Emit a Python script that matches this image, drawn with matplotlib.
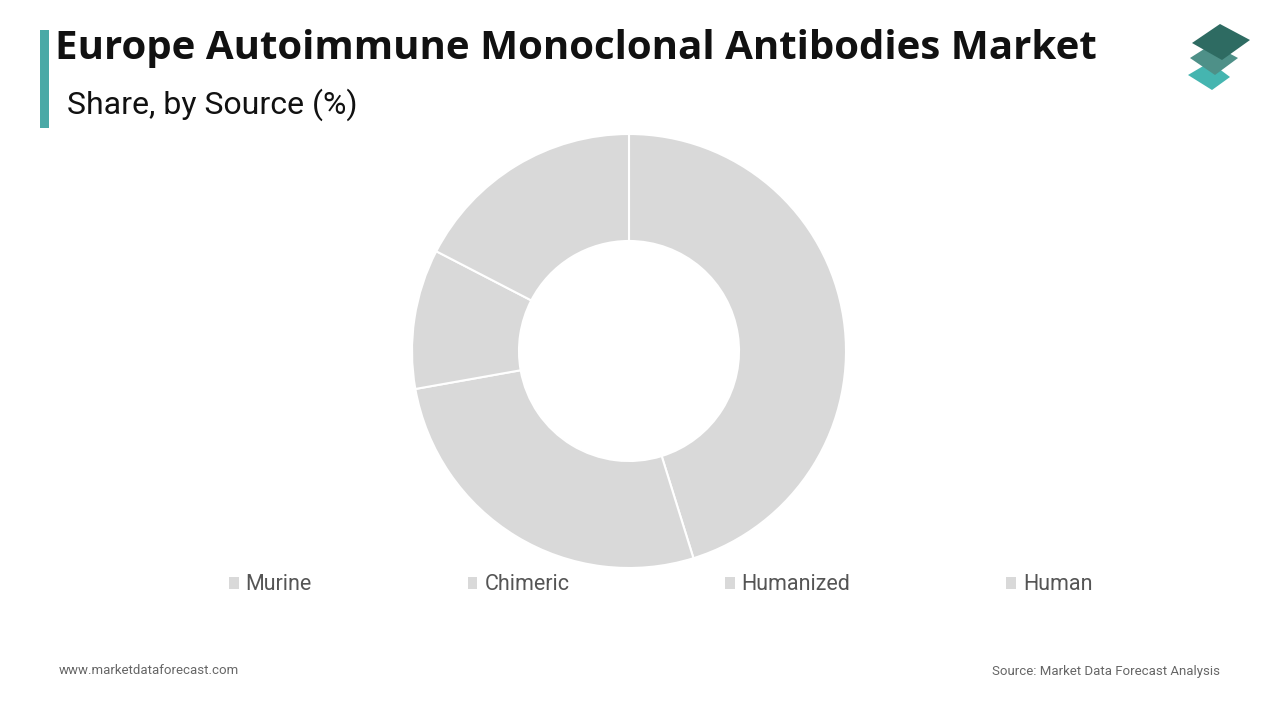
import matplotlib.pyplot as plt
from matplotlib.patches import Patch, Polygon, Rectangle

# data
sources = ["Murine", "Chimeric", "Humanized", "Human"]
shares = [45.2, 27.0, 10.4, 17.4]
slice_color = "#d9d9d9"

W, H = 1280, 720
fig = plt.figure(figsize=(W / 100, H / 100), dpi=100)
fig.patch.set_facecolor("white")


def px(x, y):
    # pixel coords (top-left origin) -> figure fraction
    return x / W, 1 - y / H


# title block
fig.patches.append(Rectangle(px(40, 128), 9 / W, 98 / H, transform=fig.transFigure,
                             facecolor="#4aa9a6", edgecolor="none"))
fig.text(*px(55, 48), "Europe Autoimmune Monoclonal Antibodies Market", fontsize=29,
         fontweight="bold", family="Open Sans", va="center", ha="left", color="#111111")
fig.text(*px(67, 105), "Share, by Source (%)", fontsize=23, family="Roboto",
         va="center", ha="left", color="#111111")

# logo
logo = [
    ([(1188, 75), (1210, 62), (1230, 77), (1212, 90)], "#45b5b0"),
    ([(1190, 58), (1212, 44), (1238, 58), (1215, 75)], "#4e9088"),
    ([(1192, 43), (1220, 24), (1250, 40), (1222, 60)], "#2e6b62"),
]
for pts, c in logo:
    fig.patches.append(Polygon([px(*p) for p in pts], closed=True, transform=fig.transFigure,
                               facecolor=c, edgecolor="none"))

# donut
cx, cy, r = 629, 351, 217
ax = fig.add_axes([(cx - r) / W, (H - cy - r) / H, 2 * r / W, 2 * r / H])
ax.pie(shares, colors=[slice_color] * len(shares), startangle=90, counterclock=False,
       radius=1, wedgeprops=dict(width=0.493, edgecolor="white", linewidth=1.5))
ax.set_xlim(-1, 1)
ax.set_ylim(-1, 1)
ax.set_aspect("equal")
ax.axis("off")

handles = [Patch(facecolor=slice_color, edgecolor="none") for _ in sources]
fig.legend(handles, sources, loc="center left", bbox_to_anchor=px(229, 585), ncol=4,
           frameon=False, prop=dict(family="Roboto", size=15.5), labelcolor="#555555",
           handlelength=0.45, handleheight=0.45, handletextpad=0.32, columnspacing=7.24,
           borderaxespad=0, borderpad=0)

# footer
fig.text(*px(59, 671), "www.marketdataforecast.com", fontsize=9.5, family="Roboto",
         color="#666666", va="center", ha="left")
fig.text(*px(1220, 671), "Source: Market Data Forecast Analysis", fontsize=9.5,
         family="Roboto", color="#666666", va="center", ha="right")

fig.savefig("out.png", dpi=100)
